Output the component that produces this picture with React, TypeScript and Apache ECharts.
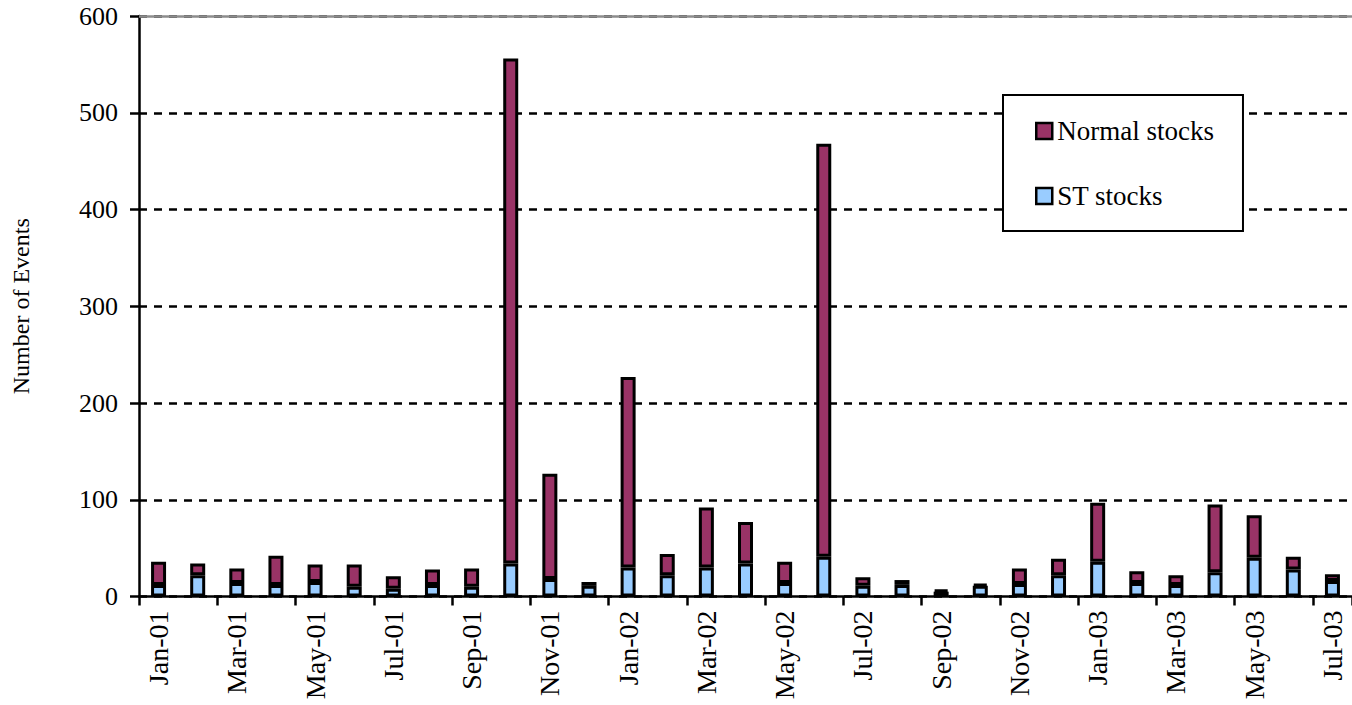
import React, { useEffect, useRef } from "react";
import * as echarts from "echarts";

// Monthly event counts, Jan 2001 – Jul 2003
const months = [
  "Jan-01", "Feb-01", "Mar-01", "Apr-01", "May-01", "Jun-01", "Jul-01", "Aug-01", "Sep-01", "Oct-01", "Nov-01", "Dec-01",
  "Jan-02", "Feb-02", "Mar-02", "Apr-02", "May-02", "Jun-02", "Jul-02", "Aug-02", "Sep-02", "Oct-02", "Nov-02", "Dec-02",
  "Jan-03", "Feb-03", "Mar-03", "Apr-03", "May-03", "Jun-03", "Jul-03",
];

const stStocks = [
  12, 22, 14, 12, 15, 10, 8, 12, 10, 34, 18, 11,
  30, 22, 30, 34, 14, 41, 11, 12, 5, 11, 13, 22,
  36, 14, 12, 25, 40, 28, 16,
];

const normalStocks = [
  24, 12, 15, 30, 18, 23, 13, 16, 19, 522, 109, 4,
  197, 22, 62, 43, 22, 427, 9, 5, 2, 2, 16, 17,
  61, 12, 10, 70, 44, 13, 7,
];

const yTicks = { min: 0, max: 600, interval: 100 };

const FONT = "'Liberation Serif', 'Times New Roman', serif";
const FS = 26;

export default function App() {
  const ref = useRef<HTMLDivElement>(null);

  useEffect(() => {
    if (!ref.current) return;
    const chart = echarts.init(ref.current, undefined, { renderer: "svg" });
    chart.setOption({
      animation: false,
      backgroundColor: "#ffffff",
      textStyle: { fontFamily: FONT, color: "#000" },
      grid: { left: 139, top: 16, width: 1221, bottom: 108.5, containLabel: false },
      legend: {
        data: ["Normal stocks", "ST stocks"],
        orient: "vertical",
        left: 1003,
        top: 95,
        padding: [21, 29, 20, 32],
        itemGap: 35,
        itemWidth: 16,
        itemHeight: 16,
        itemStyle: { borderColor: "#000", borderWidth: 2.5 },
        backgroundColor: "#fff",
        borderColor: "#000",
        borderWidth: 2,
        borderRadius: 0,
        icon: "rect",
        textStyle: { fontFamily: FONT, fontSize: 27, color: "#000", lineHeight: 30 },
      },
      xAxis: {
        type: "category",
        data: months,
        boundaryGap: true,
        axisLine: { lineStyle: { color: "#000", width: 2.5 } },
        axisTick: { show: true, interval: 1, length: 9, lineStyle: { color: "#000", width: 2.5 } },
        axisLabel: {
          interval: 1,
          rotate: 90,
          margin: 14,
          fontFamily: FONT,
          fontSize: 28,
          color: "#000",
        },
      },
      yAxis: {
        type: "value",
        min: yTicks.min,
        max: yTicks.max,
        interval: yTicks.interval,
        name: "Number of Events",
        nameLocation: "middle",
        nameGap: 106,
        nameTextStyle: { fontFamily: FONT, fontSize: 24, color: "#000" },
        axisLine: { show: true, lineStyle: { color: "#000", width: 2.5 } },
        axisTick: { show: true, length: 9, lineStyle: { color: "#000", width: 2.5 } },
        axisLabel: { margin: 21, fontFamily: FONT, fontSize: FS, color: "#000" },
        splitLine: { show: true, lineStyle: { color: "#000", width: 2.5, type: [8, 7] } },
      },
      series: [
        {
          name: "ST stocks",
          type: "bar",
          stack: "events",
          data: stStocks,
          barWidth: 15,
          itemStyle: { color: "#99CCFF", borderColor: "#000", borderWidth: 3 },
          markLine: {
            silent: true,
            symbol: "none",
            label: { show: false },
            lineStyle: { color: "#8c8c8c", width: 2.5, type: "solid" },
            data: [{ yAxis: yTicks.max }],
          },
        },
        {
          name: "Normal stocks",
          type: "bar",
          stack: "events",
          data: normalStocks,
          barWidth: 15,
          itemStyle: { color: "#993366", borderColor: "#000", borderWidth: 3 },
        },
      ],
    });
    return () => chart.dispose();
  }, []);

  return (
    <div
      ref={ref}
      style={{ position: "fixed", left: 0, top: 0, width: 1352, height: 705, background: "#fff" }}
    />
  );
}
